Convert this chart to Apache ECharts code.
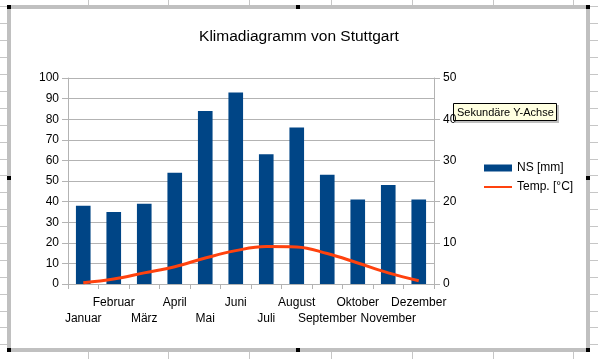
<!DOCTYPE html>
<html><head><meta charset="utf-8">
<script src="https://cdn.jsdelivr.net/npm/echarts@6/dist/echarts.min.js"></script>
<style>html,body{margin:0;padding:0;background:#fff;overflow:hidden}#c{width:598px;height:359px}</style>
</head><body><div id="c"></div>
<script>
const chartTitle = 'Klimadiagramm von Stuttgart';
const months = ['Januar','Februar','März','April','Mai','Juni','Juli','August','September','Oktober','November','Dezember'];
const precipitation = [38,35,39,54,84,93,63,76,53,41,48,41];
const temperature = [0.3,1.2,2.7,4.2,6.3,8.1,9.1,9.0,7.4,5.1,2.7,0.8];
const seriesNames = ['NS [mm]','Temp. [°C]'];
const leftAxis = {min:0, max:100, interval:10};
const rightAxis = {min:0, max:50, interval:10};
const tooltipText = 'Sekundäre Y-Achse';

const FONT = '"Liberation Sans", Arial, sans-serif';
const sheetCols = [88,168,249,331,412,493,573];
const sheetRows = [];
for (let k = 0; k < 21; k++) sheetRows.push(Math.round(6.4 + k*16.9) + 0.5);

const gLine = '#c6c6c6';
const graphics = [];
sheetCols.forEach(x => {
  graphics.push({type:'line', shape:{x1:x+0.5,y1:0,x2:x+0.5,y2:5}, style:{stroke:gLine,lineWidth:1}, silent:true});
  graphics.push({type:'line', shape:{x1:x+0.5,y1:352,x2:x+0.5,y2:359}, style:{stroke:gLine,lineWidth:1}, silent:true});
});
sheetRows.forEach(y => {
  graphics.push({type:'line', shape:{x1:0,y1:y,x2:7,y2:y}, style:{stroke:gLine,lineWidth:1}, silent:true});
  graphics.push({type:'line', shape:{x1:590,y1:y,x2:598,y2:y}, style:{stroke:gLine,lineWidth:1}, silent:true});
});
graphics.push({type:'rect', shape:{x:9,y:7,width:579,height:343}, style:{fill:null,stroke:'#c0c0c0',lineWidth:4}, z:-1, silent:true});
[[7,5],[296,5],[586,5],[7,176],[586,176],[7,348],[296,348],[586,348]].forEach(p => {
  graphics.push({type:'rect', shape:{x:p[0],y:p[1],width:4,height:4}, style:{fill:'#000'}, silent:true});
});
graphics.push({type:'group', z:100, children:[
  {type:'rect', shape:{x:455,y:105,width:104,height:18}, style:{fill:'rgba(0,0,0,0.25)'}},
  {type:'rect', shape:{x:453.5,y:103.5,width:103,height:17}, style:{fill:'#ffffe1',stroke:'#000',lineWidth:1}},
  {type:'text', x:457, y:112.5, style:{text:tooltipText, fill:'#000', font:'11px "Liberation Sans", Arial, sans-serif', verticalAlign:'middle'}}
]});

const chart = echarts.init(document.getElementById('c'), null, {renderer:'canvas'});
chart.setOption({
  animation:false,
  backgroundColor:'#fff',
  textStyle:{fontFamily:FONT},
  title:{text:chartTitle, left:'center', top:24, textStyle:{fontFamily:FONT, fontSize:15.5, fontWeight:'normal', color:'#000'}},
  legend:{
    orient:'vertical', left:483, top:161, padding:0, itemWidth:28, itemHeight:7, itemGap:5,
    textStyle:{fontFamily:FONT, fontSize:12, color:'#000', lineHeight:14},
    data:[{name:seriesNames[0], icon:'rect'}, {name:seriesNames[1], itemStyle:{opacity:0}}]
  },
  grid:{left:68, right:164, top:78, bottom:75, containLabel:false},
  xAxis:{
    type:'category', data:months, boundaryGap:true,
    axisLine:{lineStyle:{color:'#b3b3b3'}},
    axisTick:{show:true, length:5, alignWithLabel:false, lineStyle:{color:'#b3b3b3'}},
    axisLabel:{interval:0, hideOverlap:false, margin:11, color:'#000', fontSize:12, fontFamily:FONT, lineHeight:16,
      formatter:(v,i)=> i%2===0 ? '\n'+v : v}
  },
  yAxis:[
    {type:'value', min:leftAxis.min, max:leftAxis.max, interval:leftAxis.interval,
      axisLine:{show:true, lineStyle:{color:'#b3b3b3'}},
      axisTick:{show:true, length:6, lineStyle:{color:'#b3b3b3'}},
      axisLabel:{margin:9, color:'#000', fontSize:12, fontFamily:FONT},
      splitLine:{show:true, lineStyle:{color:'#b3b3b3'}}},
    {type:'value', min:rightAxis.min, max:rightAxis.max, interval:rightAxis.interval, position:'right',
      axisLine:{show:true, lineStyle:{color:'#b3b3b3'}},
      axisTick:{show:true, length:6, lineStyle:{color:'#b3b3b3'}},
      axisLabel:{margin:9, color:'#000', fontSize:12, fontFamily:FONT},
      splitLine:{show:false}}
  ],
  series:[
    {name:seriesNames[0], type:'bar', data:precipitation, yAxisIndex:0, barWidth:'48%',
      itemStyle:{color:'#004586'}},
    {name:seriesNames[1], type:'line', data:temperature, yAxisIndex:1, smooth:0.4, symbol:'none',
      lineStyle:{color:'#ff420e', width:3}, itemStyle:{color:'#ff420e'}}
  ],
  graphic:graphics
});
</script></body></html>
